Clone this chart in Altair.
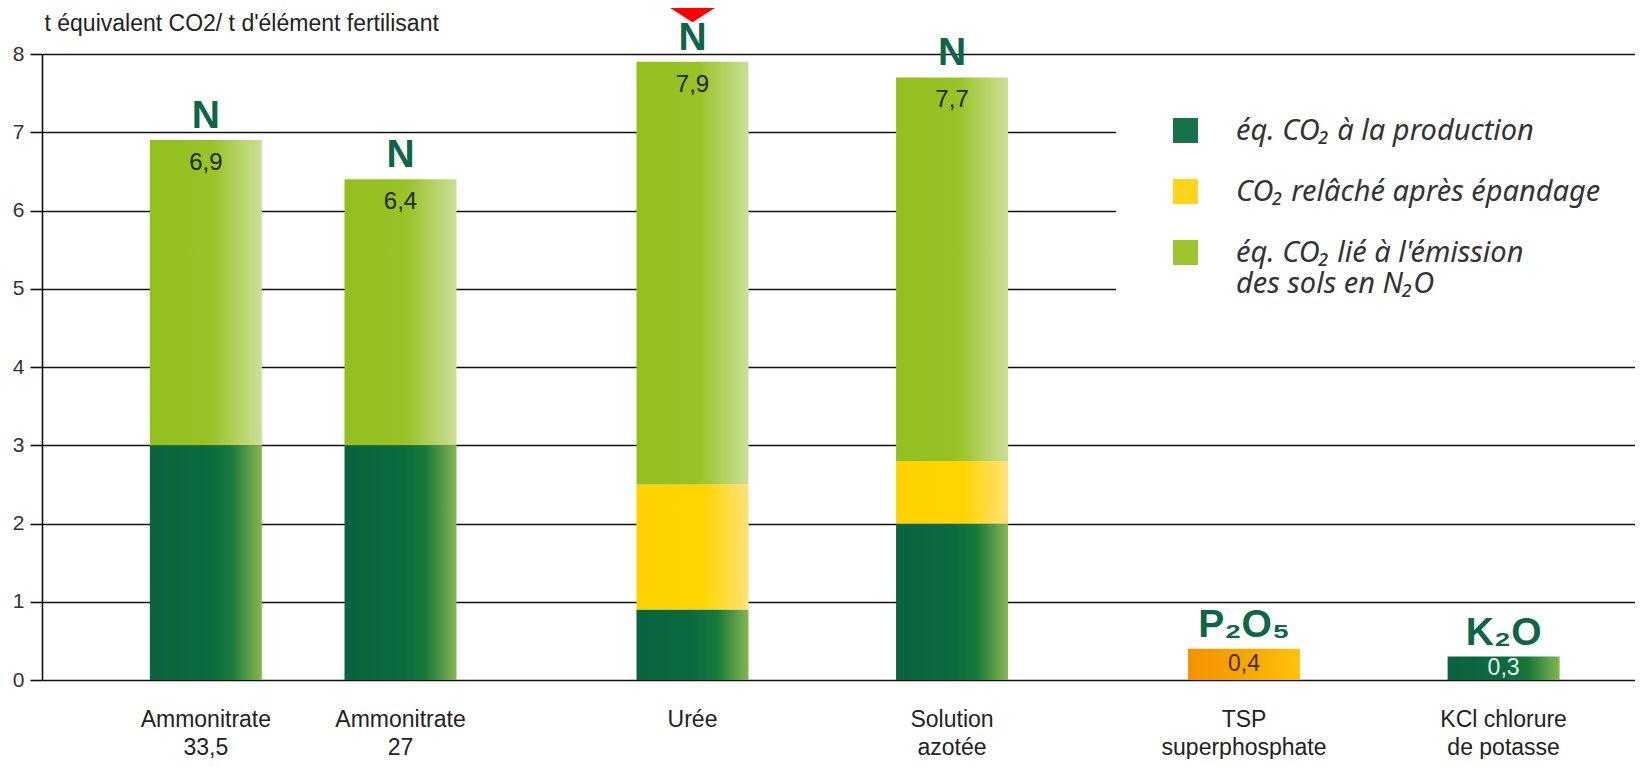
import altair as alt
import pandas as pd

# ---------------- data ----------------
categories = ["Ammonitrate\n33,5", "Ammonitrate\n27", "Urée", "Solution\nazotée",
              "TSP\nsuperphosphate", "KCl chlorure\nde potasse"]
elements = ["N", "N", "N", "N", "P₂O₅", "K₂O"]
production = [3.0, 3.0, 0.9, 2.0, 0.0, 0.3]
co2_released = [0.0, 0.0, 1.6, 0.8, 0.0, 0.0]
n2o_soil = [3.9, 3.4, 5.4, 4.9, 0.0, 0.0]
phosphate = [0.0, 0.0, 0.0, 0.0, 0.4, 0.0]
value_labels = ["6,9", "6,4", "7,9", "7,7", "0,4", "0,3"]
series_names = ["éq. CO₂ à la production", "CO₂ relâché après épandage",
                "éq. CO₂ lié à l'émission\ndes sols en N₂O"]
y_ticks = [0, 1, 2, 3, 4, 5, 6, 7, 8]
title_text = "t équivalent CO2/ t d'élément fertilisant"
highlighted = ["Urée"]

# ---------------- layout of the category axis (uneven gaps) ----------------
n_slots = 48
bar_slots = [4, 10, 19, 27, 36, 44]
domain = [f"_{i}" for i in range(n_slots)]
for s, c in zip(bar_slots, categories):
    domain[s] = c

# ---------------- tables ----------------
comp_keys = ["prod", "co2", "n2o", "phos"]
comp_vals = [production, co2_released, n2o_soil, phosphate]
rows = []
for i, c in enumerate(categories):
    base = 0.0
    for k, vals in zip(comp_keys, comp_vals):
        v = vals[i]
        if v > 0:
            rows.append({"cat": c, "comp": k, "y0": base, "y1": base + v})
            base += v
seg = pd.DataFrame(rows)

totals = [round(a + b + d + e, 2) for a, b, d, e in zip(production, co2_released, n2o_soil, phosphate)]
lab = pd.DataFrame({
    "cat": categories, "element": elements, "total": totals,
    "mid": [t / 2 for t in totals], "label": value_labels, "production": production,
})
leg = pd.DataFrame({"cat": ["Urée"] * 3, "series": series_names, "v": [0, 0, 0]})

# ---------------- styles ----------------
SANS = "Liberation Sans, Arial, sans-serif"


def grad(stops):
    return alt.LinearGradient(
        gradient="linear",
        stops=[alt.GradientStop(color=c, offset=o) for o, c in stops],
        x1=0, x2=1, y1=0, y2=0,
    )


grads = {
    "prod": grad([(0, "#0b6340"), (0.5, "#0b6a3f"), (0.72, "#17793b"), (1, "#86b650")]),
    "co2": grad([(0, "#ffd200"), (0.6, "#ffd400"), (1, "#ffe27a")]),
    "n2o": grad([(0, "#93bf1f"), (0.55, "#98c226"), (1, "#cbe096")]),
    "phos": grad([(0, "#f39200"), (0.5, "#f7a600"), (1, "#ffc20e")]),
}

x_enc = alt.X(
    "cat:N",
    scale=alt.Scale(domain=domain, paddingInner=0, paddingOuter=0.55),
    axis=alt.Axis(
        title=None, labelAngle=0, ticks=False, domain=False, grid=False,
        labelExpr="indexof(datum.label, '_') == 0 ? '' : split(datum.label, '\\n')",
        labelPadding=28, labelFont=SANS, labelFontSize=23, labelColor="#222",
        labelLineHeight=28, labelBaseline="top", labelLimit=400,
    ),
)
y_scale = alt.Scale(domain=[0, 8], nice=False, zero=True)
y_axis = alt.Axis(
    title=title_text, titleAngle=0, titleAlign="left", titleBaseline="alphabetic",
    titleX=2, titleY=-24, titleFont=SANS, titleFontSize=23, titleFontWeight="normal",
    titleColor="#222",
    values=y_ticks, grid=True, gridColor="#111", gridWidth=1.6,
    domainColor="#111", domainWidth=1.6, tickColor="#111", tickWidth=1.6,
    tickSize=12, labelPadding=6, labelFont=SANS, labelFontSize=21, labelColor="#333",
)

# legend carrier (invisible marks)
legend_layer = alt.Chart(leg).mark_square(opacity=0).encode(
    x=x_enc,
    y=alt.Y("v:Q", scale=y_scale, axis=y_axis),
    color=alt.Color(
        "series:N",
        scale=alt.Scale(domain=series_names, range=["#17734a", "#ffd51c", "#9cc530"]),
        legend=alt.Legend(
            title=None, orient="none", legendX=1074, legendY=7,
            symbolType="square", symbolSize=625, symbolStrokeWidth=0, symbolOpacity=1,
            labelFont="Noto Sans, Open Sans, sans-serif", labelFontSize=29,
            labelFontStyle="italic", labelColor="#333", labelOffset=36,
            labelLimit=600, labelExpr="split(datum.label, '\\n')",
            rowPadding=31, fillColor="white", padding=55,
        ),
    ),
)

bar_layers = []
for k in comp_keys:
    bar_layers.append(
        alt.Chart(seg).transform_filter(alt.datum.comp == k).mark_bar(
            width=112, color=grads[k], strokeWidth=0
        ).encode(
            x=x_enc,
            y=alt.Y("y0:Q", scale=y_scale, axis=y_axis),
            y2="y1:Q",
        )
    )

big_labels = alt.Chart(lab).transform_filter(alt.datum.total > 1).mark_text(
    dy=23, baseline="middle", font=SANS, fontSize=24, color="#1d2a0e"
).encode(x=x_enc, y=alt.Y("total:Q", scale=y_scale, axis=y_axis), text="label:N")

small_labels = alt.Chart(lab).transform_filter(alt.datum.total <= 1).mark_text(
    baseline="middle", font=SANS, fontSize=23
).encode(
    x=x_enc, y=alt.Y("mid:Q", scale=y_scale, axis=y_axis), text="label:N",
    color=alt.condition("datum.production > 0", alt.value("#e8f5ee"), alt.value("#4a2c00")),
)

element_labels = alt.Chart(lab).mark_text(
    baseline="alphabetic", dy=-12, font=SANS,
    fontWeight="bold", fontSize=39, color="#0d6647"
).encode(x=x_enc, y=alt.Y("total:Q", scale=y_scale, axis=y_axis), text="element:N")

marker = alt.Chart(lab).transform_filter(
    alt.FieldOneOfPredicate(field="cat", oneOf=highlighted)
).mark_point(
    shape="M-1,-0.32L1,-0.32L0,0.32Z", filled=True, color="#ff0000", opacity=1,
    size=5184, strokeWidth=0, yOffset=-51
).encode(x=x_enc, y=alt.Y("total:Q", scale=y_scale, axis=y_axis))

chart = alt.layer(
    legend_layer, *bar_layers, big_labels, small_labels, element_labels, marker
).properties(
    width=1593, height=626,
    autosize=alt.AutoSizeParams(type="none"),
    padding={"left": 34, "top": 46, "right": 0, "bottom": 79},
).configure_view(stroke=None).configure(background="white")

chart.save("out.html", embed_options={"renderer": "svg", "actions": False})
